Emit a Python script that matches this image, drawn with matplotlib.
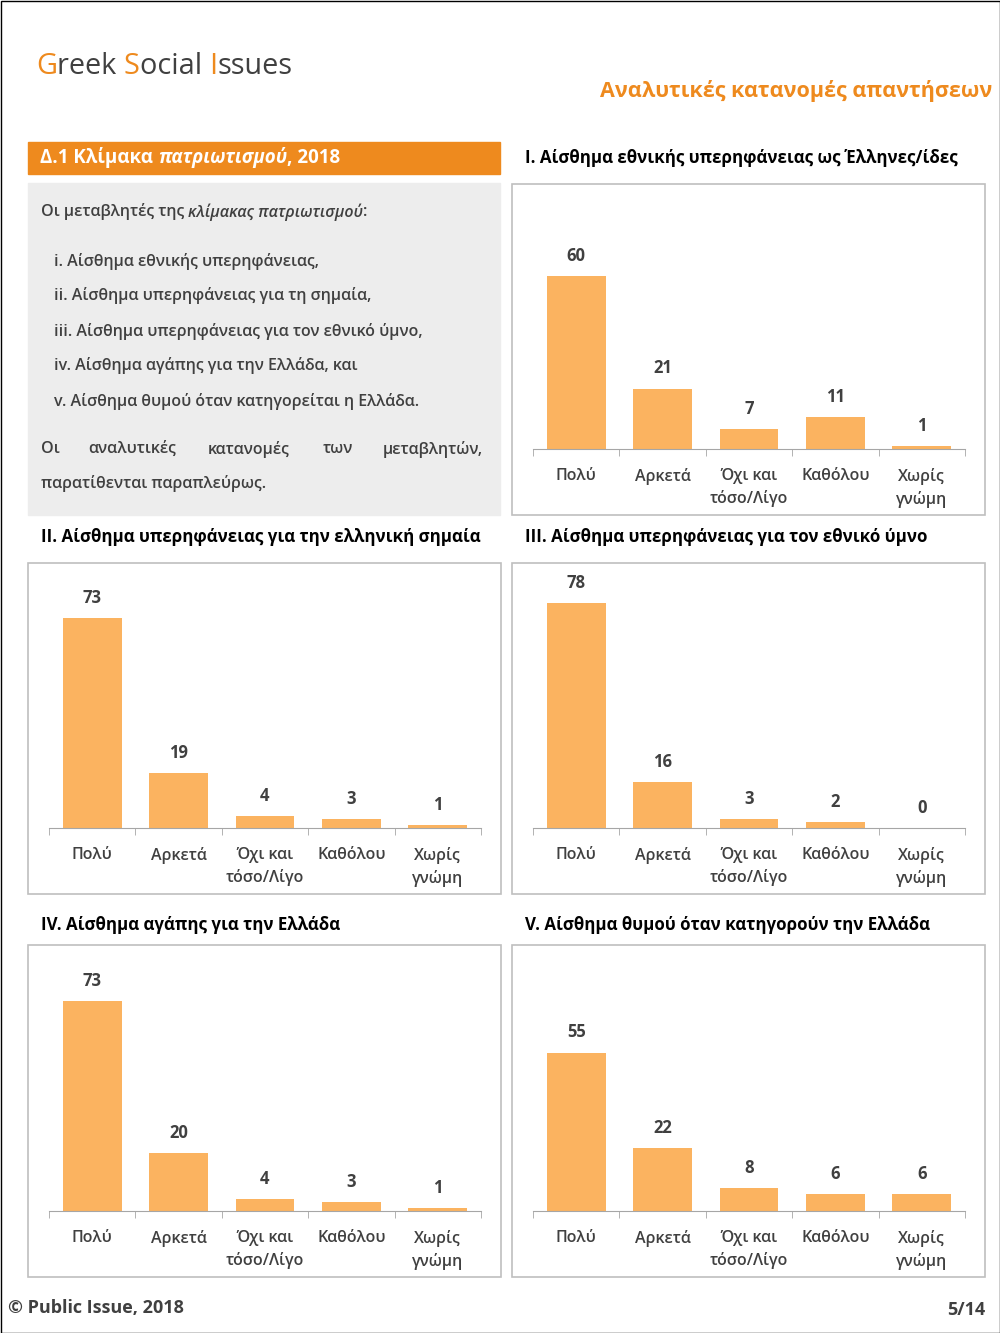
import matplotlib.pyplot as plt
from matplotlib.patches import Rectangle

plt.rcParams['font.family'] = ['Open Sans', 'DejaVu Sans']

categories = ['Πολύ', 'Αρκετά', 'Όχι και\nτόσο/Λίγο', 'Καθόλου', 'Χωρίς\nγνώμη']
titles = [
    'I. Αίσθημα εθνικής υπερηφάνειας ως Έλληνες/ίδες',
    'II. Αίσθημα υπερηφάνειας για την ελληνική σημαία',
    'III. Αίσθημα υπερηφάνειας για τον εθνικό ύμνο',
    'IV. Αίσθημα αγάπης για την Ελλάδα',
    'V. Αίσθημα θυμού όταν κατηγορούν την Ελλάδα',
]
values_1 = [60, 21, 7, 11, 1]
values_2 = [73, 19, 4, 3, 1]
values_3 = [78, 16, 3, 2, 0]
values_4 = [73, 20, 4, 3, 1]
values_5 = [55, 22, 8, 6, 6]
series = [values_1, values_2, values_3, values_4, values_5]

W, H = 1000, 1333
ORANGE = '#EE8A1E'
BAR = '#FBB360'
GREY = '#404040'
BODY = dict(color=GREY, fontsize=11.5, fontweight='semibold', va='center')

fig = plt.figure(figsize=(W / 100, H / 100), dpi=100)
page = fig.add_axes([0, 0, 1, 1])
page.set_xlim(0, W)
page.set_ylim(H, 0)
page.axis('off')
page.add_patch(Rectangle((0.5, 0.5), W - 1, H - 1, fill=False, ec='black', lw=1))

# header
x = 36
for part, col in [('G', ORANGE), ('reek ', GREY), ('S', ORANGE), ('ocial ', GREY), ('I', ORANGE), ('ssues', GREY)]:
    t = page.text(x, 66, part, color=col, fontsize=20.8, va='center', ha='left')
    fig.canvas.draw()
    x += t.get_window_extent().width
page.text(992, 91, 'Αναλυτικές κατανομές απαντήσεων', color=ORANGE, fontsize=15.5,
          fontweight='bold', ha='right', va='center')

# left info box
page.add_patch(Rectangle((28, 142), 472, 32, color=ORANGE))
t1 = page.text(40, 158, 'Δ.1 Κλίμακα ', color='white', fontsize=13.5, fontweight='bold', va='center')
fig.canvas.draw()
xx = 40 + t1.get_window_extent().width
t2 = page.text(xx, 158, 'πατριωτισμού', color='white', fontsize=13.5, fontweight='bold',
               style='italic', va='center')
fig.canvas.draw()
xx += t2.get_window_extent().width
page.text(xx, 158, ', 2018', color='white', fontsize=13.5, fontweight='bold', va='center')

page.add_patch(Rectangle((28, 183), 472, 332, color='#EDEDED'))
ta = page.text(41, 212, 'Οι μεταβλητές της ', **BODY)
fig.canvas.draw()
xx = 41 + ta.get_window_extent().width
tb = page.text(xx, 212, 'κλίμακας πατριωτισμού', style='italic', **BODY)
fig.canvas.draw()
page.text(xx + tb.get_window_extent().width, 212, ':', **BODY)
items = ['i. Αίσθημα εθνικής υπερηφάνειας,',
         'ii. Αίσθημα υπερηφάνειας για τη σημαία,',
         'iii. Αίσθημα υπερηφάνειας για τον εθνικό ύμνο,',
         'iv. Αίσθημα αγάπης για την Ελλάδα, και',
         'v. Αίσθημα θυμού όταν κατηγορείται η Ελλάδα.']
for i, it in enumerate(items):
    page.text(54, 261 + 35 * i, it, **BODY)
words = ['Οι', 'αναλυτικές', 'κατανομές', 'των', 'μεταβλητών,']
wx = [41, 88, 208, 323, 383]
for w_, x_ in zip(words, wx):
    page.text(x_, 449, w_, **BODY)
page.text(41, 484, 'παρατίθενται παραπλεύρως.', **BODY)

# chart panels: (box x0, box y0, box y1, baseline y, title y)
panels = [
    (512, 184, 515, 449, 158),
    (28, 563, 894, 828, 537),
    (512, 563, 894, 828, 537),
    (28, 945, 1277, 1211, 925),
    (512, 945, 1277, 1211, 925),
]
PXU = 2.88
for (bx, by0, by1, base, ty), title, vals in zip(panels, titles, series):
    page.add_patch(Rectangle((bx, by0), 473, by1 - by0, fill=False, ec='#BFBFBF', lw=1.2))
    page.text(bx + 13, ty, title, color='black', fontsize=12.2, fontweight='bold', va='center')
    ax0 = bx + 21
    top = by0 + 10
    ax = fig.add_axes([ax0 / W, 1 - base / H, 432 / W, (base - top) / H])
    ax.set_xlim(-0.5, 4.5)
    ax.set_ylim(0, (base - top) / PXU)
    ax.bar(range(5), vals, width=0.68, color=BAR)
    for i, v in enumerate(vals):
        ax.annotate(str(v), (i, v), xytext=(0, 8), textcoords='offset points',
                    ha='center', va='bottom', fontsize=12, fontweight='bold', color=GREY)
    for s in ['top', 'right', 'left']:
        ax.spines[s].set_visible(False)
    ax.spines['bottom'].set_color('#A6A6A6')
    ax.set_yticks([])
    ax.set_xticks(range(5))
    ax.set_xticklabels(categories, fontsize=11.5, color=GREY, linespacing=1.4,
                       fontweight='semibold')
    for lab in ax.get_xticklabels():
        lab.set_verticalalignment('top')
    ax.tick_params(axis='x', length=0, pad=14)
    ax.set_xticks([-0.5, 0.5, 1.5, 2.5, 3.5, 4.5], minor=True)
    ax.tick_params(axis='x', which='minor', length=5, color='#A6A6A6')
    ax.patch.set_alpha(0)

page.text(8, 1308, '© Public Issue, 2018', color=GREY, fontsize=13, fontweight='bold', va='center')
page.text(985, 1310, '5/14', color=GREY, fontsize=13, fontweight='bold', va='center', ha='right')

fig.savefig('out.png', dpi=100)
